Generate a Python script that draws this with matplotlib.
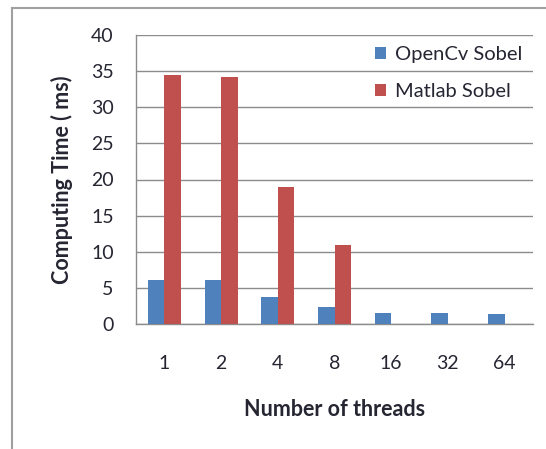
import numpy as np
import matplotlib
matplotlib.use("Agg")
import matplotlib.pyplot as plt
from matplotlib.lines import Line2D

threads = ["1", "2", "4", "8", "16", "32", "64"]
opencv_sobel = [6.1, 6.1, 3.8, 2.3, 1.5, 1.5, 1.4]
matlab_sobel = [34.4, 34.2, 18.9, 10.9, 0, 0, 0]

BLUE = "#4F81BD"
RED = "#C0504D"
GRID = "#8c8c8c"
TEXT = "#262633"

plt.rcParams['font.family'] = ['Lato', 'DejaVu Sans']

fig = plt.figure(figsize=(5.46, 4.49), dpi=100)
ax = fig.add_axes([136 / 546, 1 - 324 / 449, 397 / 546, 289 / 449])

x = np.arange(len(threads))
width = 0.29
ax.bar(x - width / 2, opencv_sobel, width, color=BLUE, label="OpenCv Sobel", zorder=3)
ax.bar(x + width / 2, matlab_sobel, width, color=RED, label="Matlab Sobel", zorder=3)

ax.set_xlim(-0.5, len(threads) - 0.5)
ax.set_ylim(0, 40)
ax.set_yticks(np.arange(0, 41, 5))
ax.set_xticks(x)
ax.set_xticklabels(threads)
ax.yaxis.grid(True, color=GRID, linewidth=1.0, zorder=0)
ax.set_axisbelow(True)

for side in ["top", "right"]:
    ax.spines[side].set_visible(False)
for side in ["left", "bottom"]:
    ax.spines[side].set_color(GRID)
    ax.spines[side].set_linewidth(1.0)

ax.tick_params(axis="both", length=0, labelsize=14, colors=TEXT)
ax.tick_params(axis="y", pad=16)
ax.tick_params(axis="x", pad=22)

ax.set_xlabel("Number of threads", fontsize=15.5, fontweight="bold", labelpad=20, color=TEXT)
ax.set_ylabel("Computing Time ( ms)", fontsize=15.5, fontweight="bold", labelpad=13, color=TEXT)

ax.legend(loc="upper right", bbox_to_anchor=(1.02, 1.025), frameon=False, fontsize=14.5,
          handlelength=0.55, handleheight=0.55, handletextpad=0.45, labelspacing=1.0,
          labelcolor=TEXT)

# outer chart frame (left and top edges visible)
fig.add_artist(Line2D([12 / 546, 12 / 546], [0, 1 - 8 / 449], transform=fig.transFigure,
                      color="#a0a0a0", linewidth=1.5))
fig.add_artist(Line2D([12 / 546, 1], [1 - 8 / 449, 1 - 8 / 449], transform=fig.transFigure,
                      color="#a0a0a0", linewidth=1.5))

fig.savefig("out.png", dpi=100)
